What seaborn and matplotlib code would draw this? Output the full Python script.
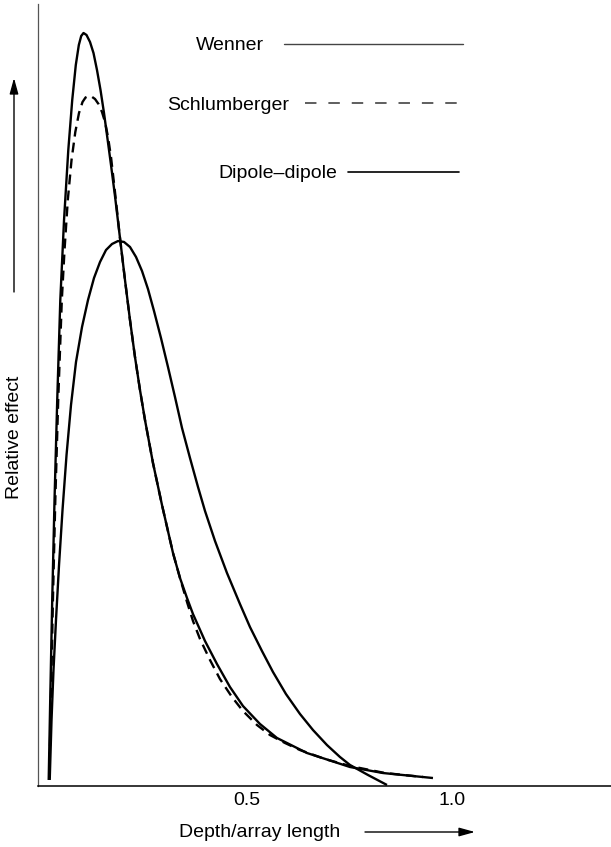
import numpy as np
import pandas as pd
import matplotlib
matplotlib.use("Agg")
import matplotlib.pyplot as plt
import seaborn as sns
from matplotlib.lines import Line2D

# ---- data (depth/array length vs relative effect) ----
wenner_x = [0.0163, 0.0200, 0.0249, 0.0305, 0.0371, 0.0446, 0.0537, 0.0641, 0.0737,
            0.0824, 0.0898, 0.0956, 0.1012, 0.1085, 0.1171, 0.1256, 0.1341, 0.1427,
            0.1512, 0.1598, 0.1683, 0.1780, 0.1902, 0.2024, 0.2146, 0.2268, 0.2390,
            0.2512, 0.2707, 0.2927, 0.3195, 0.3366, 0.3537, 0.3683, 0.3976, 0.4268,
            0.4585, 0.4902, 0.5317, 0.5732, 0.6463, 0.7512, 0.8317, 0.9537]
wenner_y = [0.0077, 0.1100, 0.2379, 0.3657, 0.4936, 0.6215, 0.7238, 0.8133, 0.8772,
            0.9220, 0.9476, 0.9591, 0.9629, 0.9604, 0.9514, 0.9373, 0.9156, 0.8900,
            0.8606, 0.8274, 0.7941, 0.7545, 0.7008, 0.6471, 0.5959, 0.5486, 0.5064,
            0.4680, 0.4130, 0.3593, 0.2980, 0.2660, 0.2404, 0.2199, 0.1854, 0.1560,
            0.1266, 0.1023, 0.0793, 0.0614, 0.0422, 0.0243, 0.0166, 0.0102]

schl_x = [0.0178, 0.0217, 0.0266, 0.0324, 0.0395, 0.0483, 0.0549, 0.0629, 0.0720,
          0.0812, 0.0902, 0.0988, 0.1061, 0.1134, 0.1207, 0.1293, 0.1378, 0.1463,
          0.1537, 0.1610, 0.1683, 0.1780, 0.1902, 0.2024, 0.2146, 0.2268, 0.2390,
          0.2512, 0.2707, 0.2927, 0.3195, 0.3366, 0.3537, 0.3683, 0.3854, 0.4098,
          0.4341, 0.4634, 0.4902, 0.5244, 0.5561, 0.5927, 0.6293, 0.6902, 0.7512,
          0.8366, 0.9293]
schl_y = [0.0102, 0.1100, 0.2379, 0.3657, 0.4936, 0.6215, 0.6854, 0.7494, 0.8005,
          0.8363, 0.8606, 0.8747, 0.8804, 0.8824, 0.8817, 0.8785, 0.8721, 0.8619,
          0.8491, 0.8299, 0.8043, 0.7596, 0.7008, 0.6471, 0.5959, 0.5486, 0.5064,
          0.4680, 0.4130, 0.3593, 0.2980, 0.2660, 0.2353, 0.2110, 0.1880, 0.1611,
          0.1368, 0.1138, 0.0959, 0.0780, 0.0652, 0.0550, 0.0460, 0.0345, 0.0256,
          0.0166, 0.0115]

dd_x = [0.0188, 0.0232, 0.0280, 0.0341, 0.0415, 0.0500, 0.0598, 0.0707, 0.0829,
        0.0976, 0.1122, 0.1268, 0.1415, 0.1561, 0.1707, 0.1854, 0.2000, 0.2146,
        0.2293, 0.2439, 0.2585, 0.2732, 0.2902, 0.3073, 0.3244, 0.3415, 0.3610,
        0.3805, 0.3976, 0.4220, 0.4512, 0.4829, 0.5073, 0.5366, 0.5634, 0.5951,
        0.6293, 0.6610, 0.6951, 0.7268, 0.7512, 0.7951, 0.8415]
dd_y = [0.0077, 0.0844, 0.1483, 0.2123, 0.2826, 0.3529, 0.4233, 0.4872, 0.5422,
        0.5870, 0.6215, 0.6496, 0.6701, 0.6854, 0.6931, 0.6969, 0.6957, 0.6893,
        0.6765, 0.6586, 0.6355, 0.6074, 0.5729, 0.5358, 0.4974, 0.4578, 0.4194,
        0.3824, 0.3517, 0.3133, 0.2724, 0.2327, 0.2033, 0.1726, 0.1458, 0.1176,
        0.0921, 0.0716, 0.0524, 0.0371, 0.0269, 0.0141, 0.0013]

series_names = ["Wenner", "Schlumberger", "Dipole\u2013dipole"]
xtick_values = [0.5, 1.0]
xtick_labels = ["0.5", "1.0"]
x_label = "Depth/array length"
y_label = "Relative effect"

wenner = pd.DataFrame({"x": wenner_x, "y": wenner_y})
schl = pd.DataFrame({"x": schl_x, "y": schl_y})
dipole = pd.DataFrame({"x": dd_x, "y": dd_y})

# ---- style ----
sns.set_theme(style="white")
plt.rcParams["font.family"] = ["Liberation Sans", "DejaVu Sans"]
FS = 14

W, H = 611, 847
fig = plt.figure(figsize=(W / 100, H / 100), dpi=100)
ax = fig.add_axes([38 / W, 61 / H, 1 - 38 / W, 782 / H])

def fx(px):
    return px / W

def fy(py):
    return 1 - py / H

lw = 1.7
dash = (0, (4.2, 2.6))
common = dict(sort=False, estimator=None, color="black", lw=lw, ax=ax,
              solid_joinstyle="round", solid_capstyle="butt")
sns.lineplot(data=wenner, x="x", y="y", **common)
sns.lineplot(data=schl, x="x", y="y", linestyle=dash, dash_joinstyle="round",
             dash_capstyle="butt", **{k: v for k, v in common.items()
                                       if not k.startswith("solid")})
sns.lineplot(data=dipole, x="x", y="y", **common)

ax.set_xlim(-0.0098, 1.388)
ax.set_ylim(0, 1)
for s in ["top", "right"]:
    ax.spines[s].set_visible(False)
ax.spines["left"].set_color("#555555")
ax.spines["left"].set_linewidth(0.9)
ax.spines["bottom"].set_color("black")
ax.spines["bottom"].set_linewidth(1.1)

ax.set_xticks(xtick_values)
ax.set_xticklabels(xtick_labels, fontsize=FS, color="black")
ax.set_yticks([])
ax.tick_params(axis="x", direction="in", length=9.4, width=0.9,
               color="black", pad=4)

ax.set_xlabel(x_label, fontsize=FS, color="black", va="baseline")
ax.xaxis.set_label_coords(fx(260), fy(837), transform=fig.transFigure)
ax.set_ylabel(y_label, fontsize=FS, color="black", va="center")
ax.yaxis.set_label_coords(fx(15), fy(437), transform=fig.transFigure)

arrow_style = "-|>,head_length=0.8,head_width=0.22"
ax.annotate("", xy=(fx(14), fy(78)), xytext=(fx(14), fy(292)),
            xycoords="figure fraction", textcoords="figure fraction",
            arrowprops=dict(arrowstyle=arrow_style, color="black", lw=1.0,
                            mutation_scale=12, shrinkA=0, shrinkB=0))
ax.annotate("", xy=(fx(475), fy(832)), xytext=(fx(365), fy(832)),
            xycoords="figure fraction", textcoords="figure fraction",
            arrowprops=dict(arrowstyle=arrow_style, color="black", lw=1.0,
                            mutation_scale=12, shrinkA=0, shrinkB=0))

# ---- legend-like annotations ----
legend_rows = [
    (series_names[0], 264, 44, 284, 463, "-", "#444444", 1.0),
    (series_names[1], 289, 103, 305, 466, (0, (7.5, 7.8)), "#333333", 1.1),
    (series_names[2], 337, 172, 348, 459, "-", "black", 1.2),
]
for name, tx, ty, x1, x2, ls, col, llw in legend_rows:
    fig.text(fx(tx), fy(ty), name, ha="right", va="center_baseline",
             fontsize=FS, color="black")
    fig.add_artist(Line2D([fx(x1), fx(x2)], [fy(ty + 0.5), fy(ty + 0.5)],
                          transform=fig.transFigure, color=col, lw=llw,
                          linestyle=ls))

fig.savefig("out.png", dpi=100)
